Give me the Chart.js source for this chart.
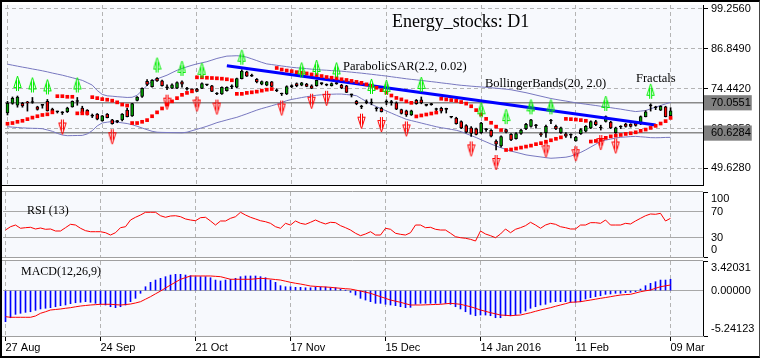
<!DOCTYPE html>
<html>
<head>
<meta charset="utf-8">
<script src="https://cdn.jsdelivr.net/npm/chart.js@4.4.1/dist/chart.umd.min.js"></script>
<style>
  html, body { margin: 0; padding: 0; background: #fff; }
  #wrap { position: relative; width: 763px; height: 360px; overflow: hidden; background: #fff; }
  #wrap canvas { position: absolute; left: 0; }
  #frame { position: absolute; left: 0; top: 0; width: 760px; height: 358px; box-sizing: border-box;
           border-left: 2px solid #000; border-top: 2px solid #000; border-bottom: 2px solid #000;
           border-right: 1px solid #444; pointer-events: none; }
  .txt { position: absolute; font-family: 'Liberation Serif', 'Times New Roman', serif; color: #000;
         white-space: nowrap; line-height: 1; }
</style>
</head>
<body>
<div id="wrap">
  <canvas id="main" width="763" height="190" style="top:0;width:763px;height:190px"></canvas>
  <canvas id="rsi" width="763" height="72" style="top:188px;width:763px;height:72px"></canvas>
  <canvas id="macd" width="763" height="102" style="top:258px;width:763px;height:102px"></canvas>
  <div class="txt" style="left:392px;top:12px;font-size:18px">Energy_stocks: D1</div>
  <div class="txt" style="left:343px;top:59.5px;font-size:12.5px">ParabolicSAR(2.2, 0.02)</div>
  <div class="txt" style="left:485px;top:76.5px;font-size:12.5px">BollingerBands(20, 2.0)</div>
  <div class="txt" style="left:636px;top:71.5px;font-size:12.5px">Fractals</div>
  <div class="txt" style="left:27px;top:204px;font-size:12px">RSI (13)</div>
  <div class="txt" style="left:21px;top:265px;font-size:12px">MACD(12,26,9)</div>
  <div id="frame"></div>
</div>
<script>
// daily bars, 27 Aug 2015 .. 09 Mar 2016, a date label every 19 bars
const dateTicks = ['27 Aug', '24 Sep', '21 Oct', '17 Nov', '15 Dec', '14 Jan 2016', '11 Feb', '09 Mar'];
const dateIdx = [0, 19, 38, 57, 76, 95, 114, 133];
const slots = 140; // room on the right after the last bar

const open = [66.87,69.89,69.29,69.89,70.15,70.15,68.77,69.25,70.50,68.08,67.30,66.92,67.26,68.77,70.45,68.38,67.77,65.92,66.56,64.45,
  66.56,64.75,64.20,64.75,67.77,65.96,70.80,72.01,76.70,75.04,77.67,76.85,74.70,74.58,74.58,76.55,74.30,74.10,74.34,74.52,
  75.60,75.34,72.80,72.83,73.83,75.00,74.89,77.55,79.67,78.33,77.37,75.85,75.55,76.55,73.80,72.80,72.83,75.10,76.04,75.55,
  75.85,75.34,75.34,76.00,75.52,75.34,76.00,75.55,75.34,72.50,70.50,68.74,70.08,69.98,68.20,68.29,70.25,70.08,70.04,67.92,
  67.56,66.26,70.80,71.01,69.26,69.47,67.96,68.29,68.00,65.56,65.26,64.24,62.93,62.24,61.93,60.72,61.69,61.51,58.18,56.66,
  61.72,60.21,58.91,60.51,62.02,62.72,62.90,60.51,60.72,64.40,62.72,60.72,60.42,59.96,58.18,60.42,61.21,62.24,64.24,62.21,
  64.24,64.05,60.72,62.51,63.45,63.45,63.75,63.45,65.75,69.10,68.50,67.77,68.77,66.02];
const high = [70.50,71.86,72.16,70.19,70.50,71.71,68.98,69.44,71.10,68.38,67.47,67.32,68.68,70.65,71.71,68.98,67.92,66.56,66.71,66.11,
  66.71,64.90,64.60,66.71,68.38,69.89,72.01,74.73,77.31,77.31,77.91,77.15,75.64,75.94,76.55,76.85,74.89,74.43,74.58,76.25,
  75.79,75.49,73.22,75.04,75.04,75.64,77.76,80.33,79.88,78.97,77.61,76.85,76.70,76.70,74.43,73.06,75.34,75.64,76.25,76.40,
  76.10,75.64,77.15,76.25,75.94,76.25,76.40,75.79,75.49,72.77,70.80,69.29,70.96,71.26,68.68,68.68,70.96,70.80,70.35,68.08,
  67.77,67.77,71.10,71.86,69.59,69.89,68.38,68.68,68.38,65.81,65.56,64.45,63.24,62.63,62.17,63.99,62.02,61.72,58.54,59.75,
  61.87,60.51,60.81,61.87,63.69,64.90,63.39,60.81,63.08,64.90,63.08,62.48,60.81,60.36,59.60,62.02,62.93,64.45,64.60,63.08,
  65.96,64.30,62.48,62.93,63.69,63.54,63.99,65.96,67.62,69.74,68.98,69.14,68.98,68.53];
const low = [66.26,69.59,68.68,68.68,67.47,69.89,67.77,68.38,67.47,67.17,66.87,66.41,67.02,68.68,69.29,66.87,66.26,65.44,64.75,64.30,
  65.35,63.39,63.84,64.45,65.66,65.81,70.65,71.71,75.34,74.89,76.70,75.19,74.13,74.43,74.43,74.89,73.98,73.83,73.55,74.43,
  75.34,73.52,72.61,72.68,73.68,74.43,74.73,77.46,78.22,78.22,76.25,75.64,75.34,75.04,73.52,72.31,72.61,74.73,75.04,75.34,
  75.04,74.43,75.19,75.64,75.34,75.25,75.79,74.43,73.22,71.86,69.44,68.23,69.74,69.44,67.47,67.17,69.44,69.29,67.92,66.56,
  65.81,66.11,69.59,69.74,69.05,69.29,67.47,66.87,66.87,65.35,63.39,62.02,60.66,59.60,60.06,60.51,61.12,59.45,55.37,56.28,
  60.66,58.24,58.70,60.21,61.72,62.48,62.17,59.60,59.30,63.54,61.72,60.51,59.30,59.15,58.09,60.21,60.96,62.02,62.93,61.57,
  64.05,62.02,60.51,62.02,62.48,62.48,62.78,63.24,65.66,67.47,67.92,67.62,65.66,65.50];
const close = [69.89,71.41,71.80,69.08,70.05,70.25,67.99,69.33,67.56,67.47,67.22,66.98,68.38,70.50,70.55,66.96,66.56,66.00,64.96,65.96,
  65.44,63.54,64.28,66.56,65.75,69.80,71.80,74.52,75.79,77.06,76.85,75.34,74.76,75.64,76.34,75.85,74.36,74.16,73.61,76.04,
  75.68,73.61,72.86,74.83,74.83,75.08,77.55,79.88,78.37,78.40,76.55,76.64,76.55,75.13,73.86,72.86,75.13,75.16,75.34,76.25,
  75.13,74.52,77.06,76.08,75.58,76.04,76.08,74.64,73.31,72.56,69.74,68.80,70.14,70.04,68.26,67.26,70.31,70.14,68.08,66.71,
  66.26,67.56,69.80,69.98,69.32,69.53,68.02,67.47,68.04,65.60,63.54,62.24,60.90,60.51,60.21,63.75,61.75,59.69,57.18,59.51,
  60.90,58.48,60.51,61.57,63.39,64.75,62.96,60.06,62.72,64.47,61.93,62.24,59.69,60.02,59.39,61.72,62.72,64.24,63.24,62.27,
  65.75,62.24,62.24,62.57,62.72,62.72,63.03,65.75,67.26,69.17,68.56,68.98,65.75,67.56];

const sar = [63.54,63.75,64.14,64.45,64.96,65.44,65.87,66.26,66.47,67.08,72.10,72.10,71.92,71.92,66.77,66.77,66.77,71.80,71.50,71.19,
  71.01,70.71,70.19,69.50,69.20,63.75,63.75,64.14,64.66,65.87,67.08,68.29,69.50,70.50,71.50,72.53,73.13,73.61,77.97,77.97,
  77.85,77.76,77.67,77.55,77.37,77.06,72.83,72.83,73.13,73.31,73.52,73.83,74.13,74.34,80.88,80.39,80.09,79.88,79.58,79.36,
  79.18,78.88,78.67,78.37,78.06,77.85,77.67,77.37,77.15,76.85,76.55,76.25,75.79,75.34,74.73,73.98,73.22,72.31,71.56,71.10,
  70.50,70.04,65.81,66.11,66.41,66.71,67.02,71.31,71.10,70.89,70.65,70.29,69.80,68.98,67.77,66.41,65.05,63.84,62.63,61.57,
  55.37,55.52,55.82,56.12,56.43,56.73,57.18,57.49,57.94,58.39,58.85,59.30,65.05,64.96,64.84,64.66,64.45,58.00,58.18,58.54,
  59.15,59.60,59.85,60.06,60.36,60.57,60.87,61.33,61.72,62.24,62.87,63.60,64.35,65.35];

const bbUpper = [82.06,81.75,81.45,81.15,80.88,80.57,80.30,80.00,79.67,79.30,78.97,78.64,78.24,77.85,77.43,77.03,76.31,75.55,73.89,72.65,
  72.22,72.10,71.95,71.83,71.71,71.77,72.37,73.92,75.43,76.88,77.46,78.06,78.64,79.42,80.15,80.73,81.24,81.72,82.15,82.48,
  82.84,83.33,83.84,84.21,84.57,84.63,84.69,84.57,84.24,83.72,83.18,82.63,82.15,81.94,81.72,81.51,81.30,81.09,80.94,80.82,
  80.66,80.51,80.39,80.27,80.18,80.06,79.97,79.88,79.73,79.58,79.42,79.27,79.09,78.91,78.73,78.55,78.37,78.15,77.94,77.73,
  77.52,77.34,77.19,77.00,76.82,76.64,76.46,76.25,76.07,75.88,75.67,75.49,75.37,75.22,75.10,74.98,74.85,74.73,74.58,74.43,
  74.28,74.10,73.80,73.49,73.19,72.83,72.46,72.10,71.74,71.38,71.10,70.83,70.59,70.32,70.04,69.83,69.62,69.41,69.20,68.98,
  68.74,68.53,68.29,68.08,67.80,67.56,67.32,67.47,67.65,68.17,68.71,69.20,69.71,70.19];
const bbLower = [62.60,62.48,62.36,62.24,62.18,62.11,62.08,61.99,61.60,61.18,60.54,60.03,59.82,59.85,59.88,59.91,60.36,61.39,62.87,63.78,
  64.02,64.23,64.02,63.81,63.60,63.24,62.75,62.21,61.69,61.18,60.90,60.84,60.81,60.78,60.75,60.72,60.90,61.36,61.81,62.27,
  62.75,63.30,63.87,64.29,64.72,65.14,65.53,66.08,66.62,67.20,67.77,68.26,68.68,69.14,69.59,70.16,70.71,71.10,71.38,71.68,
  71.95,72.16,72.40,72.55,72.62,72.71,72.77,72.77,72.62,72.46,72.25,71.34,70.44,69.56,68.86,68.20,67.50,66.84,66.17,65.53,
  64.90,64.51,64.14,63.75,63.36,62.99,62.60,62.30,62.05,61.78,61.51,61.06,60.45,59.85,59.24,58.55,57.88,57.21,56.61,56.06,
  55.52,55.03,54.64,54.25,53.85,53.61,53.40,53.19,52.98,52.80,52.89,53.01,53.13,53.46,54.07,54.64,55.43,56.31,57.18,58.12,
  58.45,58.76,59.09,59.33,59.42,59.54,59.60,59.48,59.36,59.21,59.18,59.21,59.27,59.30];

const fractalUp = [2, 5, 8, 14, 30, 35, 39, 47, 59, 62, 66, 73, 76, 83, 95, 100, 105, 109, 120, 129];
const fractalDown = [11, 21, 32, 38, 42, 55, 61, 64, 71, 75, 80, 93, 98, 108, 114, 119, 122];

const trendIdx = [44, 130];
const trendVal = [81.60, 63.15];

const priceTicks = [99.256, 86.849, 74.442, 70.0551, 62.035, 60.6284, 49.628];
const hLevels = [70.0551, 60.6284];

const rsi = [41.5,46.6,49.2,44.2,45.1,45.7,43.1,44.6,42.6,43.1,40.0,40.0,45.1,50.3,49.2,44.2,40.5,38.9,38.9,38.9,
  37.4,33.8,37.4,45.1,46.6,56.9,61.1,64.6,68.8,68.8,68.8,63.5,61.1,63.1,63.5,62.0,58.5,56.9,55.8,60.5,
  61.1,55.4,49.2,55.4,55.4,59.5,62.0,68.8,64.6,61.1,58.5,55.8,54.3,51.8,46.6,44.2,51.8,49.2,55.4,51.8,
  50.3,53.4,56.9,53.4,50.8,53.4,52.8,48.2,45.1,41.5,36.5,32.8,35.4,38.9,33.8,33.8,44.2,42.6,36.5,34.9,
  33.8,37.4,49.2,49.2,45.1,45.7,42.6,41.5,41.5,36.5,31.2,29.7,28.8,27.2,24.6,40.0,35.4,32.8,29.7,35.4,
  43.1,37.4,42.6,45.1,48.2,53.4,49.2,44.2,49.2,51.8,50.3,46.6,45.1,43.1,43.1,49.2,49.2,52.8,52.8,51.8,
  56.9,49.2,49.2,49.2,51.8,50.8,55.4,59.5,63.5,66.2,65.7,67.2,55.4,59.5];
const rsiTicks = [0, 30, 70, 100];

const macdHist = [-3.59,-3.13,-2.74,-2.62,-2.51,-2.44,-2.28,-2.12,-2.04,-1.97,-1.86,-1.74,-1.66,-1.51,-1.40,-1.35,-1.28,-1.35,-1.47,-1.55,
  -1.66,-1.86,-1.97,-1.86,-1.66,-1.28,-0.89,-0.31,0.45,0.96,1.22,1.42,1.61,1.80,1.88,1.88,1.80,1.72,1.61,1.61,
  1.61,1.49,1.22,1.11,1.22,1.31,1.42,1.61,1.69,1.69,1.69,1.61,1.49,1.22,0.96,0.57,0.45,0.45,0.38,0.38,
  0.33,0.33,0.42,0.42,0.42,0.33,0.33,0.18,0.03,-0.20,-0.51,-0.89,-1.09,-1.28,-1.47,-1.47,-1.58,-1.66,-1.74,-1.86,
  -1.97,-1.93,-1.58,-1.47,-1.47,-1.47,-1.47,-1.47,-1.47,-1.58,-1.86,-2.12,-2.44,-2.74,-2.90,-2.82,-2.82,-2.90,-3.13,-3.13,
  -2.90,-2.90,-2.82,-2.62,-2.36,-2.04,-1.86,-1.66,-1.58,-1.35,-1.28,-1.28,-1.28,-1.35,-1.35,-1.28,-0.97,-0.82,-0.70,-0.59,
  -0.43,-0.39,-0.31,-0.31,-0.24,-0.20,-0.13,0.18,0.57,0.84,1.03,1.22,1.22,1.31];
const macdSignal = [-3.01,-3.08,-3.08,-3.08,-3.08,-3.08,-2.93,-2.62,-2.44,-2.24,-2.18,-2.12,-2.04,-1.97,-1.87,-1.78,-1.72,-1.66,-1.62,-1.58,
  -1.58,-1.58,-1.62,-1.66,-1.61,-1.55,-1.43,-1.28,-0.99,-0.70,-0.37,-0.05,0.30,0.65,0.97,1.31,1.50,1.69,1.69,1.69,
  1.69,1.69,1.65,1.61,1.46,1.31,1.31,1.31,1.31,1.31,1.36,1.42,1.39,1.34,1.28,1.22,1.09,0.96,0.85,0.76,
  0.65,0.53,0.49,0.45,0.42,0.38,0.32,0.27,0.22,0.18,0.07,-0.05,-0.18,-0.31,-0.51,-0.70,-0.89,-1.09,-1.22,-1.35,
  -1.51,-1.66,-1.66,-1.66,-1.64,-1.62,-1.60,-1.58,-1.52,-1.47,-1.52,-1.58,-1.72,-1.86,-2.04,-2.24,-2.39,-2.55,-2.68,-2.82,
  -2.85,-2.90,-2.85,-2.82,-2.68,-2.55,-2.39,-2.24,-2.10,-1.97,-1.81,-1.66,-1.51,-1.35,-1.32,-1.28,-1.18,-1.09,-0.99,-0.89,
  -0.80,-0.70,-0.60,-0.51,-0.46,-0.43,-0.28,-0.13,-0.02,0.07,0.27,0.45,0.55,0.65];
const macdTicks = [-5.24123, 0, 3.42031];

// ---------------------------------------------------------------
const catLabels = [];
for (let i = 0; i < slots; i++) catLabels.push('');
dateIdx.forEach((k, j) => { catLabels[k] = dateTicks[j]; });

const tickFont = { family: "'Liberation Sans', Arial, sans-serif", size: 11 };
const panelBg = '#f7f9fd';
const dashGrid = '#b4b4b4';

// panel background and edge lines
const panelBox = {
  id: 'panelBox',
  beforeDraw(chart, args, o) {
    const { ctx, chartArea: a } = chart;
    ctx.save();
    ctx.fillStyle = panelBg;
    ctx.fillRect(2, a.top, a.right - 2, a.bottom - a.top);
    ctx.restore();
  },
  afterDatasetsDraw(chart, args, o) {
    const { ctx, chartArea: a } = chart;
    ctx.save();
    ctx.strokeStyle = o.color;
    ctx.lineWidth = 1;
    ctx.beginPath();
    if (o.top) { ctx.moveTo(2, a.top - 0.5); ctx.lineTo(a.right, a.top - 0.5); }
    ctx.moveTo(2, a.bottom + 0.5); ctx.lineTo(a.right + 1, a.bottom + 0.5);
    ctx.stroke();
    ctx.restore();
  }
};

// fixed axis sizes, so the three panels line up with each other
function fitY(s) { s.width = 60; s.paddingTop = 0; s.paddingBottom = 0; }

function xAxis(showLabels) {
  return {
    type: 'category',
    offset: true,
    grid: {
      offset: false,
      drawTicks: showLabels,
      tickLength: 5,
      tickColor: c => dateIdx.includes(c.index) ? '#000' : 'transparent',
      color: c => dateIdx.includes(c.index) ? dashGrid : 'transparent'
    },
    border: { display: false, dash: [4, 3] },
    ticks: {
      display: showLabels, autoSkip: false, maxRotation: 0, minRotation: 0,
      align: 'start', padding: 0, font: tickFont, color: '#000',
      callback: (v, i) => catLabels[i]
    },
    afterFit: s => { s.height = showLabels ? 24 : 0; s.paddingLeft = 0; s.paddingRight = 0; }
  };
}

// fractal arrows as point images, drawn a few pixels away from the high / low
function arrowGlyph(color, up) {
  const c = document.createElement('canvas');
  c.width = 9; c.height = 46;
  const g = c.getContext('2d');
  if (!up) { g.translate(0, 46); g.scale(1, -1); }
  g.translate(0, 3);
  g.strokeStyle = color;
  g.lineWidth = 1;
  g.beginPath();
  g.moveTo(4.5, 0); g.lineTo(1, 11);
  g.moveTo(4.5, 0); g.lineTo(8, 11);
  g.moveTo(0.5, 11.5); g.lineTo(3, 11.5);
  g.moveTo(6, 11.5); g.lineTo(8.5, 11.5);
  g.moveTo(3.5, 4); g.lineTo(3.5, 15);
  g.moveTo(5.5, 4); g.lineTo(5.5, 15);
  g.stroke();
  return c;
}

const isLevel = v => hLevels.includes(v);
const upData = high.map((h, i) => fractalUp.includes(i) ? h : null);
const dnData = low.map((l, i) => fractalDown.includes(i) ? l : null);
const trendData = catLabels.map((_, i) => { const k = trendIdx.indexOf(i); return k >= 0 ? trendVal[k] : null; });

const common = {
  responsive: false,
  animation: false,
  events: [],
  plugins: { legend: { display: false }, tooltip: { enabled: false } }
};

new Chart(document.getElementById('main'), {
  type: 'bar',
  data: {
    labels: catLabels,
    datasets: [
      { type: 'line', data: upData, showLine: false, pointStyle: arrowGlyph('#00ee00', true), pointRadius: 3, order: 0 },
      { type: 'line', data: dnData, showLine: false, pointStyle: arrowGlyph('#ff0000', false), pointRadius: 3, order: 0 },
      { type: 'line', data: sar, showLine: false, pointStyle: 'rect', pointRadius: 2.6,
        pointBackgroundColor: '#ff0000', pointBorderWidth: 0, order: 1 },
      { type: 'line', data: trendData, spanGaps: true, borderColor: '#0000ff', borderWidth: 3,
        pointRadius: 0, order: 2 },
      { type: 'bar', data: open.map((o, i) => [o, close[i]]), grouped: false, barThickness: 3, minBarLength: 1,
        backgroundColor: c => {
          const d = close[c.dataIndex] - open[c.dataIndex];
          return Math.abs(d) < 0.1 ? '#000' : (d > 0 ? '#00a000' : '#ff0000');
        },
        borderColor: '#000', borderWidth: 1, borderSkipped: false, order: 3 },
      { type: 'bar', data: low.map((l, i) => [l, high[i]]), grouped: false, barThickness: 1,
        backgroundColor: '#000', order: 4 },
      { type: 'line', data: bbUpper, borderColor: '#7878c0', borderWidth: 1, pointRadius: 0, order: 5 },
      { type: 'line', data: bbLower, borderColor: '#7878c0', borderWidth: 1, pointRadius: 0, order: 5 }
    ]
  },
  options: Object.assign({}, common, {
    layout: { padding: { left: 3, top: 2, bottom: 3, right: 0 } },
    plugins: Object.assign({}, common.plugins, { panelBox: { color: '#000', top: false } }),
    scales: {
      x: xAxis(false),
      y: {
        position: 'right', min: 44.48, max: 100.47,
        afterBuildTicks: s => { s.ticks = priceTicks.map(v => ({ value: v })); },
        afterFit: fitY,
        grid: {
          color: c => (c.tick && isLevel(c.tick.value)) ? '#8a8a8a' : dashGrid,
          lineWidth: c => (c.tick && isLevel(c.tick.value)) ? 1.5 : 1,
          tickLength: 5, tickColor: '#000'
        },
        border: { display: true, color: '#000', dash: c => (c.tick && isLevel(c.tick.value)) ? [] : [4, 3] },
        ticks: {
          autoSkip: false, padding: 3, font: tickFont, color: '#000',
          callback: v => v.toFixed(4),
          showLabelBackdrop: c => !!(c.tick && isLevel(c.tick.value)),
          backdropColor: '#808080',
          backdropPadding: { left: 7, right: 1, top: 1, bottom: 1 }
        }
      }
    }
  }),
  plugins: [panelBox]
});

new Chart(document.getElementById('rsi'), {
  type: 'line',
  data: {
    labels: catLabels,
    datasets: [{ data: rsi, borderColor: '#ff0000', borderWidth: 1, pointRadius: 0 }]
  },
  options: Object.assign({}, common, {
    layout: { padding: { left: 3, top: 4, bottom: 3, right: 0 } },
    plugins: Object.assign({}, common.plugins, { panelBox: { color: '#a0a0a0', top: true } }),
    scales: {
      x: xAxis(false),
      y: {
        position: 'right', min: 0, max: 100,
        afterBuildTicks: s => { s.ticks = rsiTicks.map(v => ({ value: v })); },
        afterFit: fitY,
        grid: {
          color: c => (c.tick && (c.tick.value === 30 || c.tick.value === 70)) ? '#a8a8a8' : 'transparent',
          tickLength: 5,
          tickColor: c => (c.tick && (c.tick.value === 0 || c.tick.value === 100)) ? '#000' : 'transparent'
        },
        border: { display: true, color: '#000' },
        ticks: {
          autoSkip: false, padding: 3, font: tickFont, color: '#000',
          callback: (v, i) => i === 0 ? [String(v), ''] : (i === rsiTicks.length - 1 ? ['', String(v)] : String(v))
        }
      }
    }
  }),
  plugins: [panelBox]
});

new Chart(document.getElementById('macd'), {
  type: 'bar',
  data: {
    labels: catLabels,
    datasets: [
      { type: 'line', data: macdSignal, borderColor: '#ff0000', borderWidth: 1, pointRadius: 0, order: 0 },
      { type: 'bar', data: macdHist, barThickness: 1, backgroundColor: '#0000ff', order: 1 }
    ]
  },
  options: Object.assign({}, common, {
    layout: { padding: { left: 3, top: 3, bottom: 0, right: 0 } },
    plugins: Object.assign({}, common.plugins, { panelBox: { color: '#a0a0a0', top: true } }),
    scales: {
      x: xAxis(true),
      y: {
        position: 'right', min: -5.24123, max: 3.42031,
        afterBuildTicks: s => { s.ticks = macdTicks.map(v => ({ value: v })); },
        afterFit: fitY,
        grid: {
          color: c => (c.tick && c.tick.value === 0) ? '#a8a8a8' : 'transparent',
          tickLength: 5,
          tickColor: c => (c.tick && c.tick.value !== 0) ? '#000' : 'transparent'
        },
        border: { display: true, color: '#000' },
        ticks: {
          autoSkip: false, padding: 3, font: tickFont, color: '#000',
          callback: (v, i) => {
            const t = v.toFixed(5);
            return i === 0 ? [t, ''] : (i === macdTicks.length - 1 ? ['', t] : t);
          }
        }
      }
    }
  }),
  plugins: [panelBox]
});
</script>
</body>
</html>
